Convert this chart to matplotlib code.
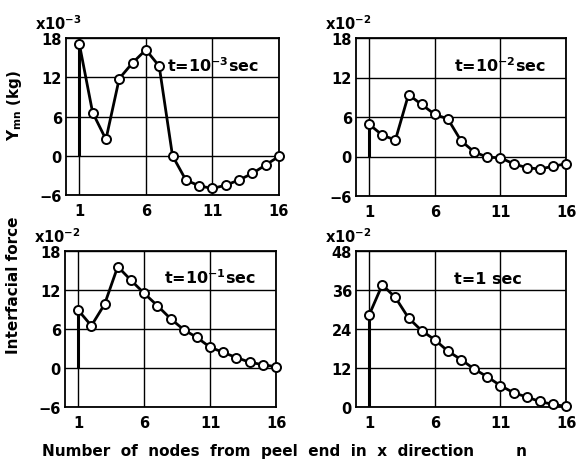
import matplotlib
matplotlib.use("Agg")
import matplotlib.pyplot as plt

plt.rcParams['font.family'] = ['DejaVu Sans']
plt.rcParams['font.weight'] = 'bold'
plt.rcParams['mathtext.fontset'] = 'dejavusans'
plt.rcParams['mathtext.default'] = 'bf'

nodes = list(range(1, 17))
xticks = [1, 6, 11, 16]

f_t3 = [17.1, 6.6, 2.5, 11.8, 14.2, 16.2, 13.7, 0.0, -3.7, -4.6, -5.0, -4.5, -3.7, -2.7, -1.4, -0.1]
f_t2 = [4.9, 3.25, 2.5, 9.4, 7.9, 6.4, 5.7, 2.4, 0.7, -0.1, -0.2, -1.1, -1.7, -1.9, -1.5, -1.1]
f_t1 = [8.9, 6.5, 9.8, 15.6, 13.5, 11.5, 9.6, 7.6, 5.9, 4.7, 3.2, 2.4, 1.6, 0.9, 0.5, 0.2]
f_t0 = [28.3, 37.6, 33.7, 27.4, 23.5, 20.7, 17.2, 14.6, 11.7, 9.3, 6.6, 4.4, 3.1, 1.7, 0.8, 0.2]

yticks_a = [-6, 0, 6, 12, 18]
yticks_b = [0, 12, 24, 36, 48]

panels = [
    (f_t3, yticks_a, r"t=10$^{-3}$sec", r"x10$^{-3}$", 14.0),
    (f_t2, yticks_a, r"t=10$^{-2}$sec", r"x10$^{-2}$", 14.0),
    (f_t1, yticks_a, r"t=10$^{-1}$sec", r"x10$^{-2}$", 14.0),
    (f_t0, yticks_b, "t=1 sec", r"x10$^{-2}$", 39.5),
]
label_x = [7.6, 7.5, 7.5, 7.5]

W, H = 577, 464
fig = plt.figure(figsize=(W / 100, H / 100), dpi=100)

boxes = [(66, 39, 279, 196), (356, 39, 566, 197), (65, 252, 276, 408), (356, 252, 566, 408)]

for i, ((vals, yt, tlabel, exp, ty), (l, t, r, b)) in enumerate(zip(panels, boxes)):
    ax = fig.add_axes([l / W, 1 - b / H, (r - l) / W, (b - t) / H])
    ax.set_xlim(0, 16)
    ax.set_ylim(yt[0], yt[-1])
    ax.set_xticks(xticks)
    ax.set_yticks(yt)
    ax.grid(True, color='black', linewidth=1.0)
    ax.set_axisbelow(True)
    for s in ax.spines.values():
        s.set_linewidth(1.3)
    ax.tick_params(length=0, labelsize=10.5)
    ax.tick_params(axis='y', pad=3)
    ax.tick_params(axis='x', pad=6)
    for lab in ax.get_xticklabels() + ax.get_yticklabels():
        lab.set_fontweight('bold')
    ax.vlines(nodes[0], 0, vals[0], color='black', linewidth=2.2, zorder=3)
    ax.plot(nodes, vals, color='black', linewidth=2.0, marker='o', markersize=6.5,
            markerfacecolor='white', markeredgecolor='black', markeredgewidth=1.4,
            clip_on=False, zorder=4)
    ax.text(label_x[i], ty, tlabel, fontsize=11.5, fontweight='bold', ha='left', va='center')
    ax.text(-31 / (r - l), 1 + 9 / (b - t), exp, transform=ax.transAxes,
            fontsize=10.5, fontweight='bold', ha='left', va='baseline')

fig.text(14 / W, 1 - 285 / H, "Interfacial force", rotation=90, fontsize=11,
         fontweight='bold', ha='center', va='center')
fig.text(14 / W, 1 - 105 / H, r"Y$_{mn}$ (kg)", rotation=90, fontsize=11,
         fontweight='bold', ha='center', va='center')
fig.text(42 / W, 1 - 452 / H, "Number  of  nodes  from  peel  end  in  x  direction        n",
         fontsize=11, fontweight='bold', ha='left', va='center')

fig.savefig("out.png", dpi=100, facecolor='white')
